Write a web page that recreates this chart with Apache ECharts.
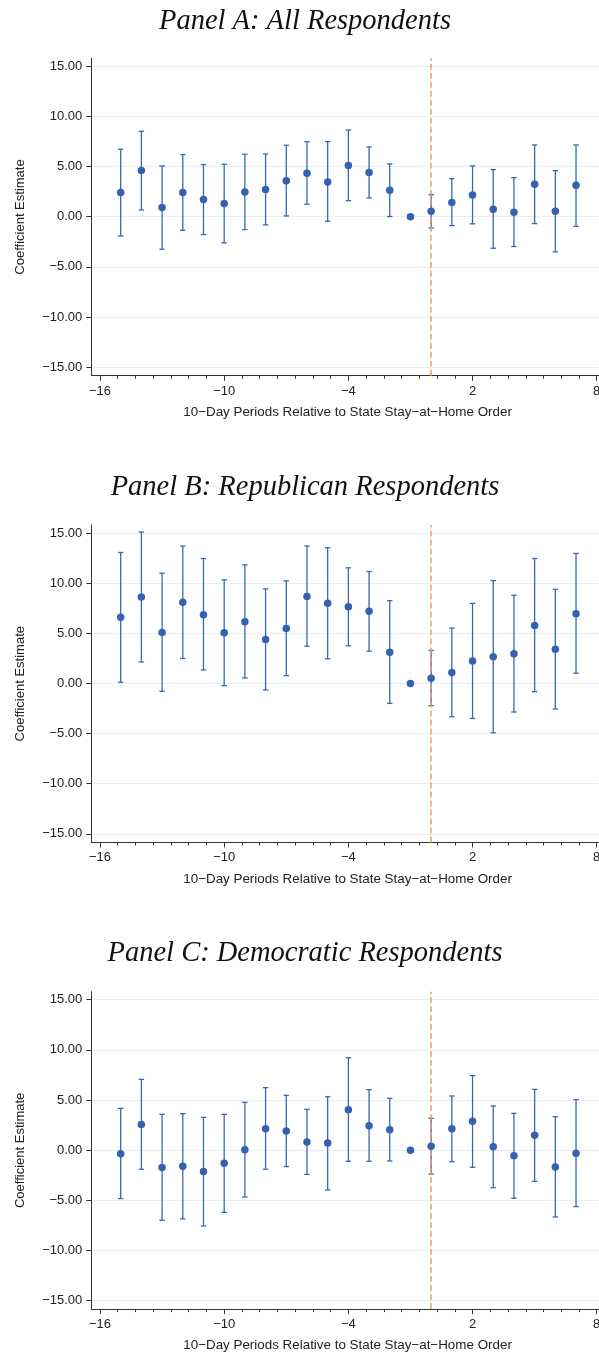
<!DOCTYPE html>
<html>
<head>
<meta charset="utf-8">
<script src="https://cdn.jsdelivr.net/npm/echarts@6/dist/echarts.min.js"></script>
<style>
html,body{margin:0;padding:0;background:#fff;overflow:hidden;}
#chart{width:599px;height:1357px;}
</style>
</head>
<body>
<div id="chart"></div>
<script>
// ---- data ----
var periods = [-15,-14,-13,-12,-11,-10,-9,-8,-7,-6,-5,-4,-3,-2,-1,0,1,2,3,4,5,6,7];

var titles = ['Panel A: All Respondents','Panel B: Republican Respondents','Panel C: Democratic Respondents'];

var coefA = [2.41,4.60,0.91,2.41,1.71,1.31,2.48,2.71,3.60,4.34,3.47,5.10,4.40,2.64,0,0.55,1.41,2.18,0.75,0.45,3.24,0.55,3.14];
var loA   = [-1.91,0.68,-3.24,-1.35,-1.78,-2.61,-1.28,-0.81,0.08,1.25,-0.45,1.61,1.88,0.02,null,-1.11,-0.88,-0.71,-3.14,-2.97,-0.68,-3.50,-0.95];
var hiA   = [6.73,8.52,5.07,6.20,5.20,5.23,6.23,6.26,7.13,7.49,7.49,8.65,6.96,5.27,null,2.21,3.80,5.07,4.70,3.90,7.16,4.60,7.16];

var coefB = [6.59,8.63,5.09,8.09,6.86,5.06,6.16,4.39,5.49,8.66,7.99,7.66,7.19,3.12,0,0.52,1.08,2.25,2.65,2.95,5.79,3.42,6.96];
var loB   = [0.12,2.15,-0.78,2.49,1.35,-0.22,0.55,-0.65,0.78,3.72,2.45,3.75,3.22,-1.99,null,-2.22,-3.32,-3.49,-4.92,-2.85,-0.82,-2.55,1.02];
var hiB   = [13.06,15.10,10.99,13.70,12.46,10.33,11.83,9.43,10.23,13.70,13.53,11.53,11.16,8.26,null,3.29,5.52,7.99,10.26,8.79,12.46,9.39,12.96];

var coefC = [-0.35,2.57,-1.74,-1.61,-2.14,-1.31,0.05,2.14,1.91,0.81,0.71,4.04,2.44,2.04,0,0.38,2.14,2.87,0.35,-0.55,1.48,-1.68,-0.32];
var loC   = [-4.83,-1.91,-6.99,-6.86,-7.56,-6.20,-4.67,-1.91,-1.64,-2.41,-3.97,-1.11,-1.11,-1.08,null,-2.38,-1.15,-1.71,-3.74,-4.80,-3.11,-6.66,-5.63];
var hiC   = [4.17,7.06,3.57,3.64,3.27,3.57,4.77,6.23,5.47,4.07,5.33,9.22,6.03,5.17,null,3.17,5.40,7.43,4.40,3.67,6.06,3.34,5.03];

var xTicks = [-16,-10,-4,2,8];
var yTicks = [-15,-10,-5,0,5,10,15];
var orderPeriod = 0; // stay-at-home order marker
var xTitle = '10\u2212Day Periods Relative to State Stay\u2212at\u2212Home Order';
var yTitle = 'Coefficient Estimate';

// ---- styling / layout ----
var DOT = '#3462b0', BAR = '#3a67b5', DASH = '#e8a06c', GRIDC = '#e7eff1', AX = '#333', TXT = '#222';
var panelTops = [58.3, 525, 991.7];
var titleTops = [7, 473, 939];
var gridLeft = 91.3, gridW = 507.5, gridH = 317.4;
var xMin = -16.42, xMax = 8.1, yMin = -15.85, yMax = 15.8;

function minus(s){ return String(s).replace('-', '\u2212'); }
var minorTicks = [];
for (var k = 0; k <= 28; k++) minorTicks.push(-16 + k * 6 / 7);

var panels = [[coefA, loA, hiA], [coefB, loB, hiB], [coefC, loC, hiC]];

var option = { animation:false, graphic:[], grid:[], xAxis:[], yAxis:[], series:[] };

panels.forEach(function(p, i){
  option.graphic.push({
    type: 'text', x: 305, y: titleTops[i], silent: true,
    style: { text: titles[i], align: 'center', verticalAlign: 'top',
      font: 'italic 28.5px "Liberation Serif"', fill: '#111' }
  });
  option.grid.push({ left: gridLeft, top: panelTops[i], width: gridW, height: gridH, containLabel: false, outerBoundsMode: 'none' });
  // main x axis
  option.xAxis.push({
    type: 'value', gridIndex: i, min: xMin, max: xMax, position: 'bottom',
    axisLine: { show: true, onZero: false, lineStyle: { color: AX, width: 1 } },
    axisTick: { show: true, length: 5, customValues: xTicks, lineStyle: { color: AX } },
    axisLabel: { customValues: xTicks, formatter: function(v){ return minus(v); }, fontFamily: 'Liberation Sans', fontSize: 13, color: TXT, margin: 9 },
    splitLine: { show: false },
    name: xTitle, nameLocation: 'middle', nameGap: 30,
    nameTextStyle: { fontFamily: 'Liberation Sans', fontSize: 13.4, color: TXT, padding: [0, 0, 0, 5] }
  });
  // minor tick axis
  option.xAxis.push({
    type: 'value', gridIndex: i, min: xMin, max: xMax, position: 'bottom',
    axisLine: { show: false, onZero: false },
    axisTick: { show: true, length: 3, customValues: minorTicks, lineStyle: { color: AX } },
    axisLabel: { show: false }, splitLine: { show: false }
  });
  option.yAxis.push({
    type: 'value', gridIndex: i, min: yMin, max: yMax,
    axisLine: { show: true, onZero: false, lineStyle: { color: AX, width: 1 } },
    axisTick: { show: true, length: 5, customValues: yTicks, lineStyle: { color: AX } },
    axisLabel: { customValues: yTicks, formatter: function(v){ return minus(v.toFixed(2)); }, fontFamily: 'Liberation Sans', fontSize: 13, color: TXT, margin: 9 },
    splitLine: { show: true, lineStyle: { color: GRIDC, width: 1 } },
    name: yTitle, nameLocation: 'middle', nameGap: 64, nameRotate: 90,
    nameTextStyle: { fontFamily: 'Liberation Sans', fontSize: 13, color: TXT }
  });

  var coef = p[0], lo = p[1], hi = p[2];
  var ciData = [], ptData = [];
  periods.forEach(function(x, j){
    ptData.push([x, coef[j]]);
    if (lo[j] !== null && hi[j] !== null) ciData.push([x, lo[j], hi[j]]);
  });

  option.series.push({
    type: 'custom', xAxisIndex: 2 * i, yAxisIndex: i, z: 2,
    data: ciData, encode: { x: 0, y: [1, 2] },
    renderItem: function(params, api){
      var x = api.value(0);
      var a = api.coord([x, api.value(2)]);
      var b = api.coord([x, api.value(1)]);
      var w = 2.7;
      var st = { stroke: BAR, lineWidth: 1.3 };
      return { type: 'group', children: [
        { type: 'line', shape: { x1: a[0], y1: a[1], x2: b[0], y2: b[1] }, style: st },
        { type: 'line', shape: { x1: a[0] - w, y1: a[1], x2: a[0] + w, y2: a[1] }, style: st },
        { type: 'line', shape: { x1: b[0] - w, y1: b[1], x2: b[0] + w, y2: b[1] }, style: st }
      ]};
    }
  });
  option.series.push({
    type: 'scatter', xAxisIndex: 2 * i, yAxisIndex: i, z: 4,
    data: ptData, symbol: 'circle', symbolSize: 7.5,
    itemStyle: { color: DOT, opacity: 1 },
    markLine: {
      silent: true, symbol: ['none', 'none'], label: { show: false }, z: 3,
      lineStyle: { color: DASH, type: [6, 3], width: 1.5 },
      data: [{ xAxis: orderPeriod }]
    }
  });
});

var chart = echarts.init(document.getElementById('chart'), null, { renderer: 'canvas' });
chart.setOption(option);
</script>
</body>
</html>
